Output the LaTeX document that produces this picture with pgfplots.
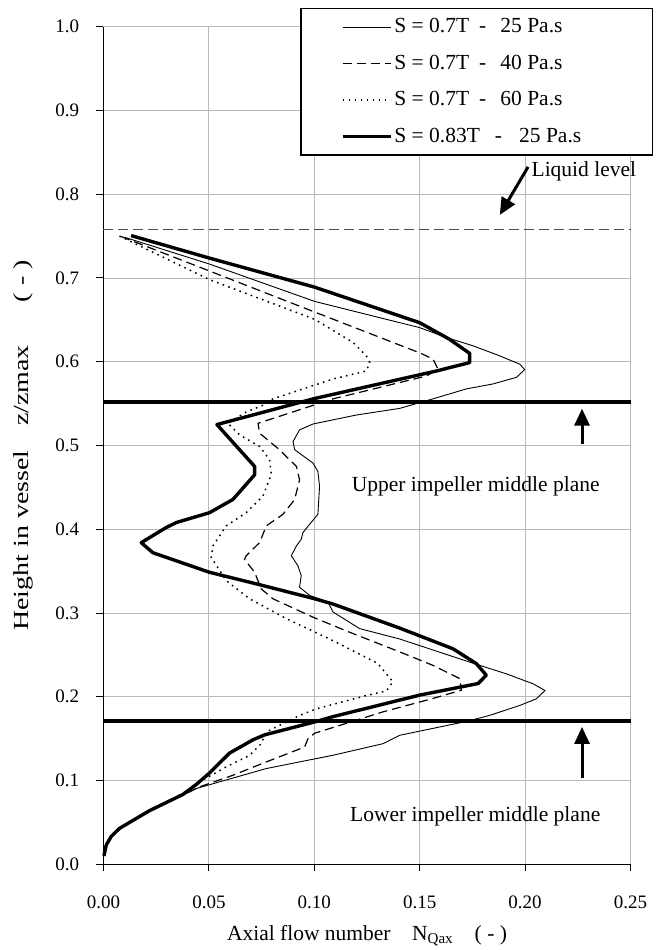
\documentclass[border=0pt]{standalone}
\usepackage{fontspec}
\setmainfont{Liberation Serif}
\usepackage{pgfplots}
\pgfplotsset{compat=1.18}
\usetikzlibrary{arrows.meta}

\begin{document}
\fontsize{21.5}{25}\selectfont
\begin{tikzpicture}
\begin{axis}[
    scale only axis,
    width=527pt, height=837.6pt,
    xmin=0, xmax=0.25, ymin=0, ymax=1,
    xtick={0,0.05,0.1,0.15,0.2,0.25},
    ytick={0,0.1,0.2,0.3,0.4,0.5,0.6,0.7,0.8,0.9,1},
    tick label style={font=\fontsize{19}{22}\selectfont},
    xticklabel style={yshift=-17pt, /pgf/number format/.cd, fixed, fixed zerofill, precision=2},
    yticklabel style={xshift=-10pt, /pgf/number format/.cd, fixed, fixed zerofill, precision=1},
    /pgf/number format/assume math mode=true,
    axis x line*=bottom, axis y line*=left,
    axis line style={black, line width=1.4pt, -},
    tick align=outside, major tick length=7pt,
    tick style={black, line width=1pt},
    grid=major,
    major grid style={gray!55, line width=0.9pt},
    xlabel={Axial flow number\quad N\textsubscript{Qax}\quad ( - )},
    ylabel={\scalebox{1.3}[1]{Height in vessel\hspace{19pt}z/zmax\hspace{33pt}( - )}},
    xlabel style={yshift=-2pt},
    ylabel style={yshift=8pt},
    clip=false,
    legend style={at={(1.0427,1.022)}, anchor=north east,
        draw=black, line width=1.2pt, fill=white,
        inner xsep=40pt, inner ysep=7.5pt, row sep=15pt,
        nodes={inner sep=2pt}},
    legend cell align=left,
    legend image code/.code={\draw[#1] (0pt,0pt) -- (48pt,0pt);},
]

% S = 0.7T, 25 Pa.s
\addplot[black, line width=0.9pt] coordinates {
(0.0100,0.7486) (0.0503,0.7166) (0.1002,0.6720) (0.1500,0.6407) (0.1627,0.6289)
(0.1753,0.6190) (0.1880,0.6070) (0.1975,0.5970) (0.1998,0.5905) (0.1959,0.5814)
(0.1848,0.5735) (0.1722,0.5676) (0.1563,0.5557) (0.1405,0.5443) (0.1200,0.5364)
(0.0994,0.5257) (0.0930,0.5186) (0.0899,0.5047) (0.0907,0.4949) (0.0994,0.4790)
(0.1017,0.4690) (0.1025,0.4514) (0.1017,0.4178) (0.0978,0.4060) (0.0946,0.3960)
(0.0938,0.3880) (0.0915,0.3800) (0.0891,0.3684) (0.0922,0.3565) (0.0938,0.3447)
(0.0930,0.3308) (0.0978,0.3210) (0.1065,0.3130) (0.1089,0.3012) (0.1215,0.2814)
(0.1405,0.2690) (0.1738,0.2413) (0.1911,0.2274) (0.2038,0.2155) (0.2094,0.2075)
(0.2054,0.1976) (0.1975,0.1897) (0.1832,0.1778) (0.1722,0.1706) (0.1405,0.1540)
(0.1326,0.1440) (0.1089,0.1302) (0.0772,0.1143) (0.0440,0.0905) (0.0377,0.0826)
(0.0218,0.0640) (0.0076,0.0429) (0.0036,0.0330) (0.0013,0.0230) (0.0002,0.0100)
};
\addlegendentry{\makebox[216pt][l]{S = 0.7T\hspace{10pt}-\hspace{14pt}25 Pa.s}}

% S = 0.7T, 40 Pa.s
\addplot[black, line width=1.2pt, dash pattern=on 9pt off 5pt] coordinates {
(0.0084,0.7494) (0.0503,0.7083) (0.1002,0.6593) (0.1503,0.6103) (0.1563,0.6032)
(0.1587,0.5913) (0.1532,0.5830) (0.1089,0.5557) (0.0733,0.5265) (0.0741,0.5146)
(0.0835,0.4949) (0.0915,0.4750) (0.0930,0.4590) (0.0907,0.4356) (0.0851,0.4178)
(0.0772,0.4040) (0.0741,0.3842) (0.0677,0.3684) (0.0669,0.3640) (0.0717,0.3486)
(0.0748,0.3289) (0.0804,0.3170) (0.0994,0.2950) (0.1168,0.2770) (0.1405,0.2536)
(0.1563,0.2375) (0.1690,0.2217) (0.1698,0.2079) (0.1563,0.1980) (0.1326,0.1820)
(0.1002,0.1565) (0.0970,0.1500) (0.0954,0.1400) (0.0772,0.1222) (0.0614,0.1063)
(0.0456,0.0925) (0.0377,0.0826) (0.0218,0.0640) (0.0076,0.0429) (0.0036,0.0330)
(0.0013,0.0230) (0.0002,0.0100)
};
\addlegendentry{\makebox[216pt][l]{S = 0.7T\hspace{10pt}-\hspace{14pt}40 Pa.s}}

% S = 0.7T, 60 Pa.s
\addplot[black, line width=1.5pt, dash pattern=on 1.6pt off 4.4pt] coordinates {
(0.0076,0.7500) (0.0503,0.6980) (0.1002,0.6506) (0.1184,0.6230) (0.1247,0.6070)
(0.1263,0.5990) (0.1247,0.5890) (0.1089,0.5794) (0.0804,0.5557) (0.0756,0.5480)
(0.0677,0.5400) (0.0590,0.5265) (0.0646,0.5126) (0.0741,0.4988) (0.0788,0.4830)
(0.0796,0.4652) (0.0756,0.4395) (0.0677,0.4198) (0.0582,0.4040) (0.0519,0.3800)
(0.0511,0.3664) (0.0582,0.3387) (0.0693,0.3170) (0.0867,0.2933) (0.1089,0.2670)
(0.1300,0.2400) (0.1373,0.2180) (0.1342,0.2070) (0.1247,0.2015) (0.1011,0.1857)
(0.0931,0.1778) (0.0772,0.1580) (0.0748,0.1440) (0.0693,0.1300) (0.0582,0.1163)
(0.0456,0.0984) (0.0377,0.0846) (0.0218,0.0640) (0.0076,0.0429) (0.0036,0.0330)
(0.0013,0.0230) (0.0002,0.0100)
};
\addlegendentry{\makebox[216pt][l]{S = 0.7T\hspace{10pt}-\hspace{14pt}60 Pa.s}}

% S = 0.83T, 25 Pa.s
\addplot[black, line width=3.4pt, line join=round] coordinates {
(0.0131,0.7506) (0.0503,0.7237) (0.1002,0.6890) (0.1500,0.6466) (0.1640,0.6270)
(0.1737,0.6100) (0.1737,0.5990) (0.1580,0.5890) (0.1000,0.5560) (0.0538,0.5250)
(0.0717,0.4750) (0.0717,0.4650) (0.0614,0.4356) (0.0503,0.4198) (0.0345,0.4080)
(0.0297,0.4020) (0.0179,0.3840) (0.0234,0.3720) (0.0503,0.3486) (0.0725,0.3348)
(0.1002,0.3170) (0.1089,0.3107) (0.1405,0.2820) (0.1658,0.2573) (0.1769,0.2395)
(0.1816,0.2257) (0.1777,0.2158) (0.1500,0.2020) (0.1089,0.1763) (0.1002,0.1700)
(0.0764,0.1545) (0.0709,0.1486) (0.0598,0.1328) (0.0503,0.1090) (0.0440,0.0953)
(0.0377,0.0834) (0.0218,0.0640) (0.0076,0.0429) (0.0036,0.0330) (0.0013,0.0230)
(0.0002,0.0100)
};
\addlegendentry{\makebox[216pt][l]{S = 0.83T\hspace{15pt}-\hspace{17pt}25 Pa.s}}

% liquid level and impeller planes
\addplot[forget plot, gray!60!black, line width=1pt, dash pattern=on 10pt off 5pt]
    coordinates {(0,0.758) (0.25,0.758)};
\addplot[forget plot, black, line width=4pt] coordinates {(0,0.552) (0.25,0.552)};
\addplot[forget plot, black, line width=4pt] coordinates {(0,0.171) (0.25,0.171)};

% annotations
\node[anchor=west, inner sep=0pt] at (axis cs:0.2030,0.8269) {Liquid level};
\draw[line width=3pt, -{Triangle[length=17pt, width=15pt]}]
    (axis cs:0.2014,0.8326) -- (axis cs:0.1880,0.7753);
\node[anchor=west, inner sep=0pt] at (axis cs:0.1177,0.4511) {Upper impeller middle plane};
\draw[line width=3pt, -{Triangle[length=17pt, width=15pt]}]
    (axis cs:0.2270,0.5020) -- (axis cs:0.2270,0.5440);
\node[anchor=west, inner sep=0pt] at (axis cs:0.1169,0.0568) {Lower impeller middle plane};
\draw[line width=3pt, -{Triangle[length=17pt, width=15pt]}]
    (axis cs:0.2270,0.1030) -- (axis cs:0.2270,0.1640);
\end{axis}
\pgfresetboundingbox
\path ([shift={(-103.5pt,-85.7pt)}]current axis.south west) rectangle ++(660pt,950pt);
\end{tikzpicture}
\end{document}
